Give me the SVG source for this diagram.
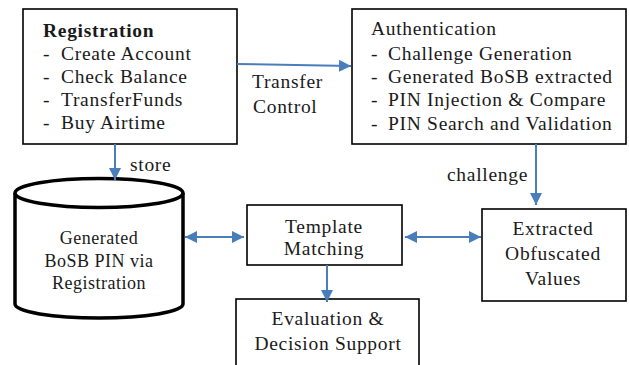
<svg xmlns="http://www.w3.org/2000/svg" width="629" height="365" viewBox="0 0 629 365">
<style>
.box{fill:#fff;stroke:#000;stroke-width:1.6}
.t{font-family:"Liberation Serif","Times New Roman",serif;font-size:19.5px;letter-spacing:0.7px;fill:#1a1a1a}
.c{text-anchor:middle}
.b{font-weight:bold}
.s{font-size:18px;letter-spacing:0.5px}
.con{stroke:#4a7ebb;stroke-width:2;fill:none}
</style>
<defs>
<marker id="ah" markerUnits="userSpaceOnUse" markerWidth="12" markerHeight="12" viewBox="0 0 12 12" refX="12" refY="6" orient="auto-start-reverse">
<path d="M0,0 L12,6 L0,12 z" fill="#4a7ebb"/>
</marker>
</defs>
<rect width="629" height="365" fill="#fff"/>
<g id="registration">
<rect class="box" x="23" y="9" width="214" height="135"/>
<text class="t b" x="43" y="37">Registration</text>
<text class="t" x="43" y="60">-</text><text class="t" x="61" y="60">Create Account</text>
<text class="t" x="43" y="83">-</text><text class="t" x="61" y="83">Check Balance</text>
<text class="t" x="43" y="106">-</text><text class="t" x="61" y="106">TransferFunds</text>
<text class="t" x="43" y="129">-</text><text class="t" x="61" y="129">Buy Airtime</text>
</g>
<g id="authentication">
<rect class="box" x="352" y="9" width="274" height="135"/>
<text class="t" x="371" y="35">Authentication</text>
<text class="t" x="371" y="60">-</text><text class="t" x="388" y="60">Challenge Generation</text>
<text class="t" x="371" y="83">-</text><text class="t" x="388" y="83">Generated BoSB extracted</text>
<text class="t" x="371" y="106">-</text><text class="t" x="388" y="106">PIN Injection &amp; Compare</text>
<text class="t" x="371" y="130">-</text><text class="t" x="388" y="130">PIN Search and Validation</text>
</g>
<g id="database">
<path d="M15,193 L15,304 A84,14 0 0 0 183,304 L183,193" fill="#fff" stroke="#000" stroke-width="3.5"/>
<ellipse cx="99" cy="193" rx="84" ry="14.5" fill="#fff" stroke="#000" stroke-width="3.5"/>
<text class="t s c" x="99" y="244">Generated</text>
<text class="t s c" x="99" y="267">BoSB PIN via</text>
<text class="t s c" x="99" y="289">Registration</text>
</g>
<g id="template">
<rect class="box" x="247" y="205" width="155" height="60"/>
<text class="t c" x="324" y="233">Template</text>
<text class="t c" x="324" y="255">Matching</text>
</g>
<g id="extracted">
<rect class="box" x="482" y="209" width="144" height="92"/>
<text class="t c" x="553" y="235">Extracted</text>
<text class="t c" x="553" y="260">Obfuscated</text>
<text class="t c" x="553" y="285">Values</text>
</g>
<g id="evaluation">
<rect class="box" x="236" y="299" width="183" height="70"/>
<text class="t c" x="328" y="325">Evaluation &amp;</text>
<text class="t c" x="328" y="350">Decision Support</text>
</g>
<g id="connectors">
<line class="con" x1="237" y1="64" x2="351" y2="66" marker-end="url(#ah)"/>
<line class="con" x1="115" y1="144" x2="115" y2="180" marker-end="url(#ah)"/>
<line class="con" x1="536" y1="144" x2="536" y2="205" marker-end="url(#ah)"/>
<line class="con" x1="327" y1="265" x2="327" y2="302" marker-end="url(#ah)"/>
<line class="con" x1="185" y1="237" x2="244" y2="237" marker-start="url(#ah)" marker-end="url(#ah)"/>
<line class="con" x1="405" y1="237" x2="481" y2="237" marker-start="url(#ah)" marker-end="url(#ah)"/>
<text class="t" x="130" y="171">store</text>
<text class="t" x="252" y="88">Transfer</text>
<text class="t" x="253" y="113">Control</text>
<text class="t" x="447" y="181">challenge</text>
</g>
</svg>
